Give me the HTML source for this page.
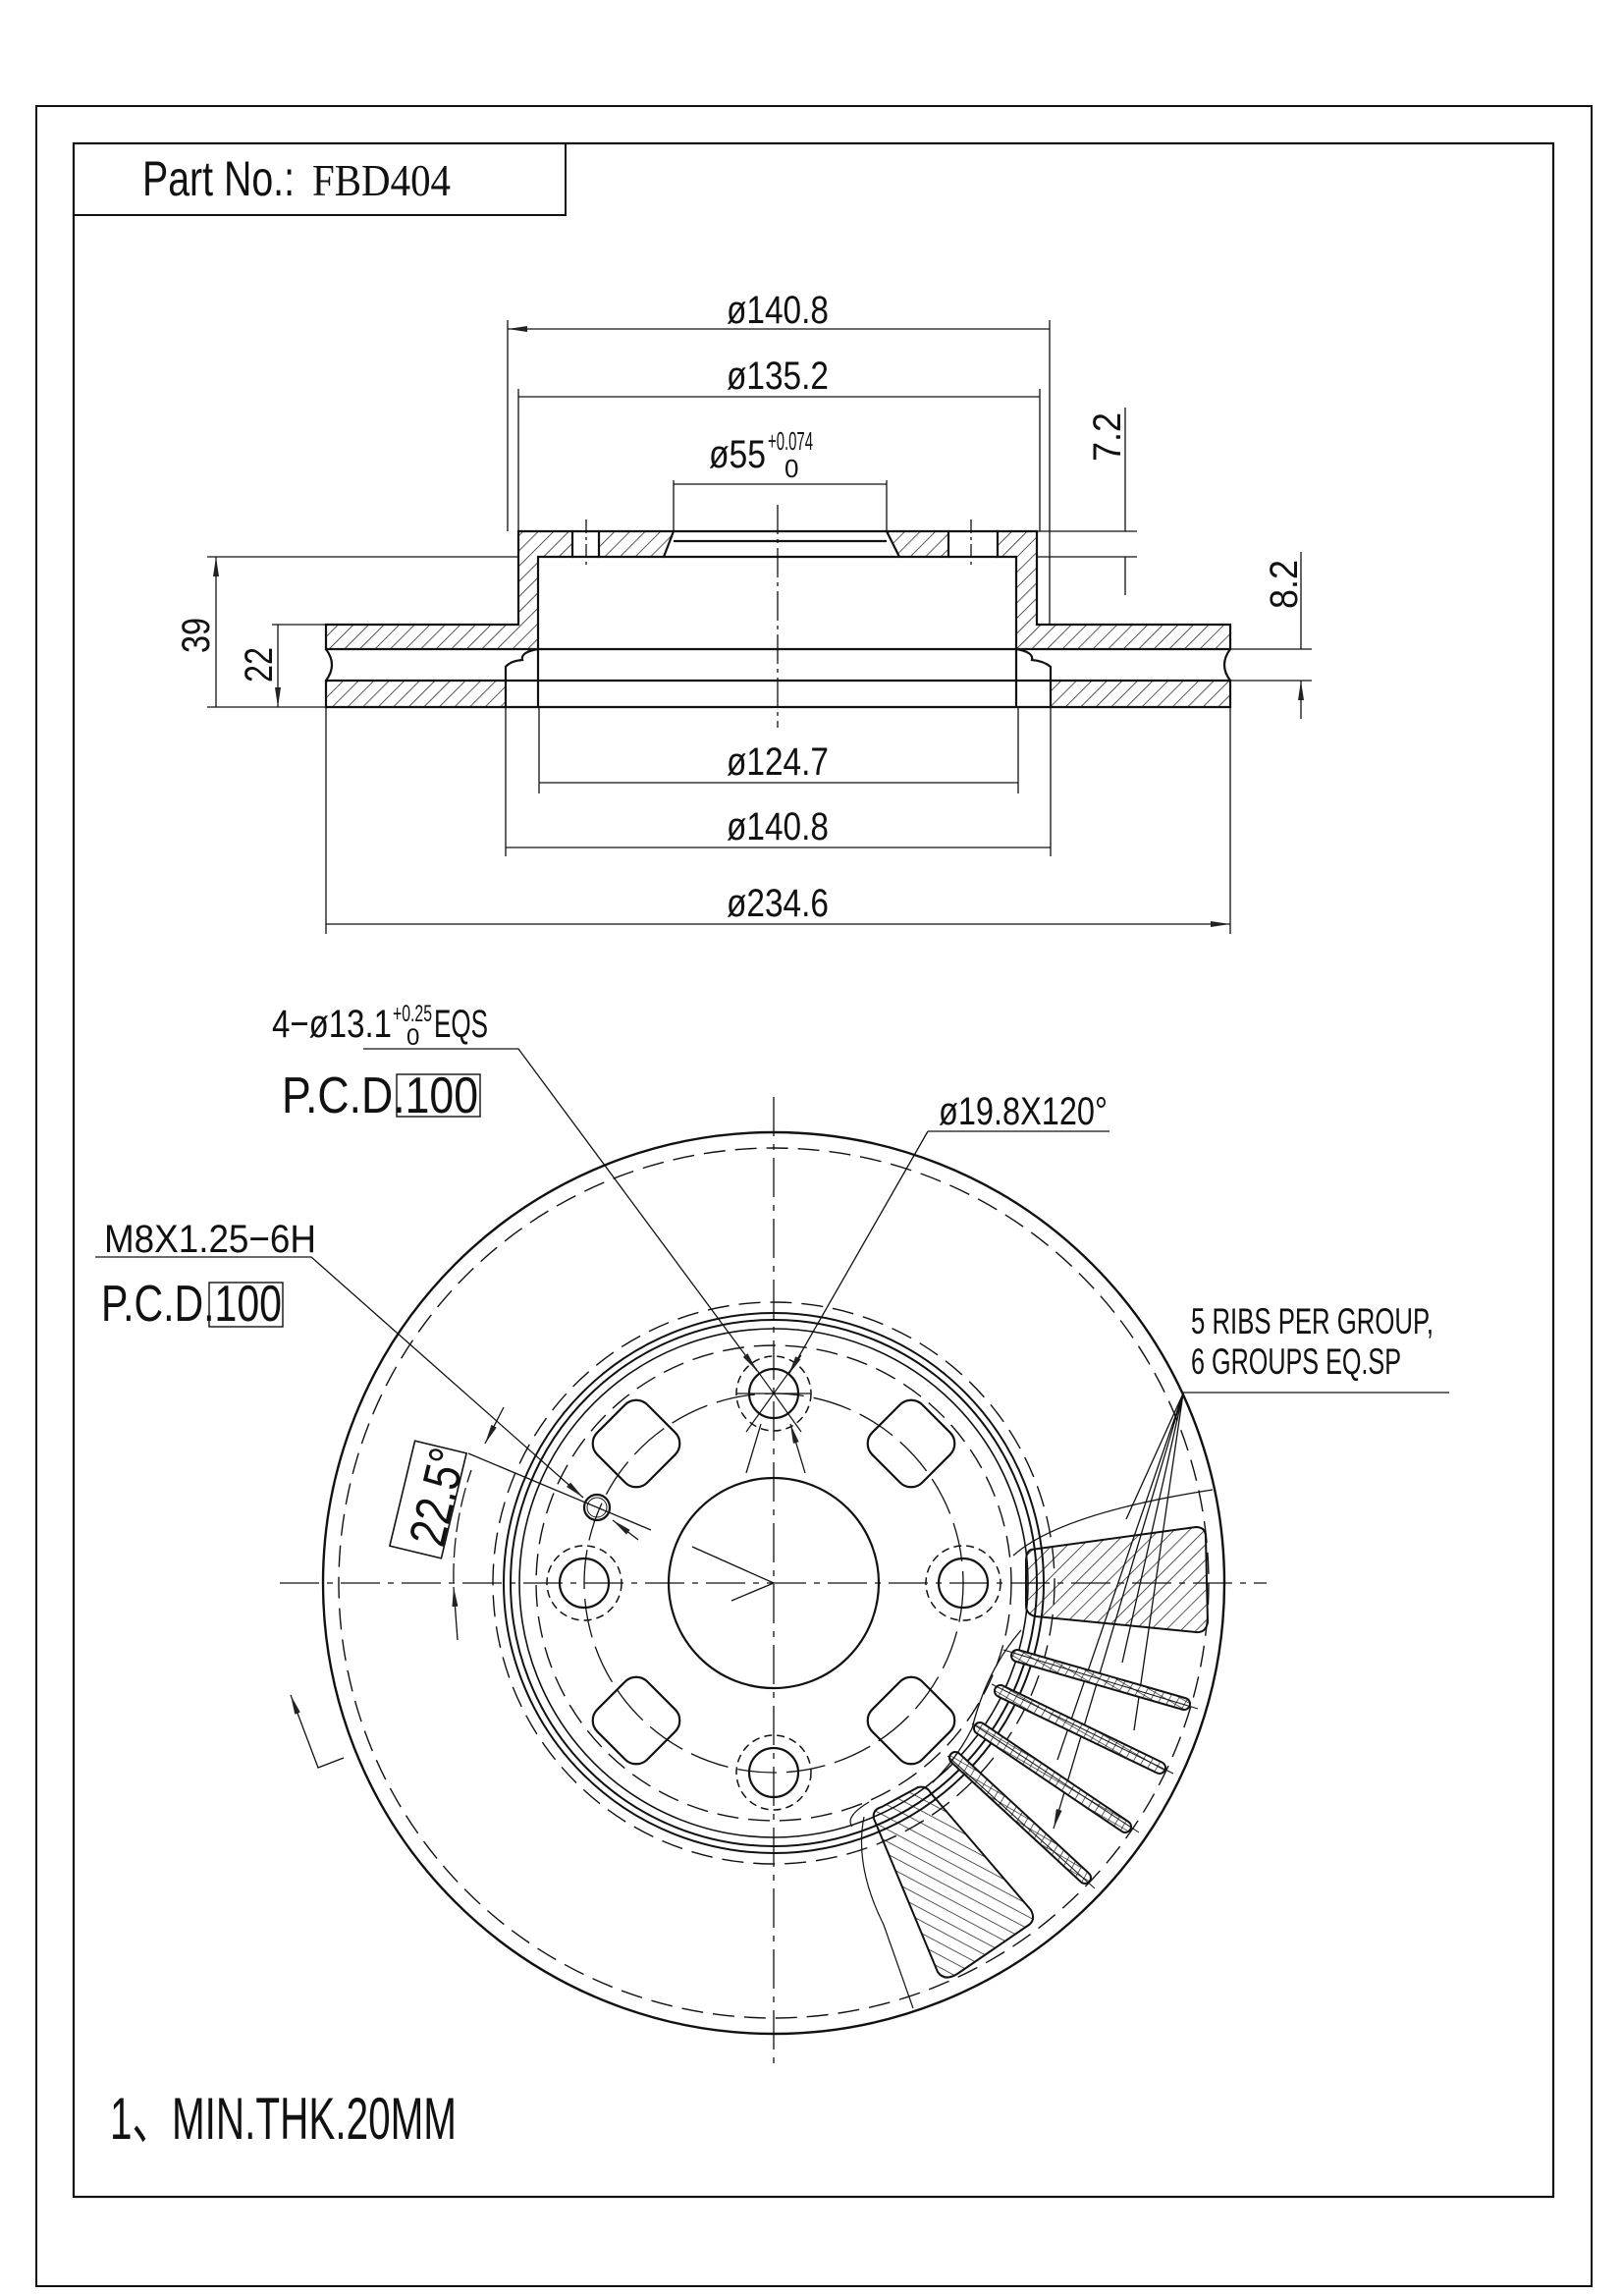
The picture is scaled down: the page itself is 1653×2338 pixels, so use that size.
<!DOCTYPE html>
<html><head><meta charset="utf-8"><style>
html,body{margin:0;padding:0;background:#fff;}
svg{display:block;}
text{font-family:"Liberation Sans",sans-serif;fill:#111;}
</style></head><body>
<svg width="1653" height="2338" viewBox="0 0 1653 2338" xmlns="http://www.w3.org/2000/svg">
<defs>
<pattern id="h" patternUnits="userSpaceOnUse" width="11" height="11" patternTransform="rotate(45)">
<line x1="0" y1="0" x2="0" y2="11" stroke="#111" stroke-width="1.4"/></pattern>
<pattern id="h2" patternUnits="userSpaceOnUse" width="11" height="11" patternTransform="rotate(-62)">
<line x1="0" y1="0" x2="0" y2="11" stroke="#111" stroke-width="1.4"/></pattern>
<pattern id="x" patternUnits="userSpaceOnUse" width="8" height="8" patternTransform="rotate(30)">
<path d="M0 0V8M0 0H8" stroke="#111" stroke-width="1.3" fill="none"/></pattern>
<marker id="a" viewBox="0 0 20 6" refX="20" refY="3" markerWidth="20" markerHeight="6" markerUnits="userSpaceOnUse" orient="auto-start-reverse">
<path d="M0 0L20 3L0 6z" fill="#222"/></marker>
</defs>
<g fill="none" stroke="#111">
<rect x="37" y="108" width="1584" height="2220" stroke-width="2"/>
<rect x="75" y="146" width="1507" height="2091" stroke-width="2.2"/>
<path d="M75 219H576V146" stroke-width="2"/>

<g stroke-width="2.2">
<path fill="url(#h)" d="M528 541H583V567H548V661H332V636H528Z"/>
<path fill="url(#h)" d="M610 541H686L676 567H610Z"/>
<path fill="url(#h)" d="M903 541H966V567H916Z"/>
<path fill="url(#h)" d="M1016 541H1056V636H1253V661H1035V567H1016Z"/>
<path fill="url(#h)" d="M332 693H515V720H332Z"/>
<path fill="url(#h)" d="M1070 693H1253V720H1070Z"/>
<path d="M583 541H610M966 541H1016M583 567H610M966 567H1016M686 541H903M676 567H916M686 551H903"/>
<path d="M548 661H1035M515 693H1070M515 720H1070M548 661V720M1035 661V720"/>
<path d="M332 661Q344 677 332 693M1253 661Q1241 677 1253 693"/>
<path d="M548 661Q530 664 532 672Q520 673 515 679V693M1035 661Q1053 664 1051 672Q1063 673 1070 679V693"/>
</g>
<g stroke-width="1.3">
<path d="M597 529V578M989 529V578" stroke-dasharray="14 4 3 4"/>
<path d="M792 514V741" stroke-dasharray="30 5 4 5"/>
<path d="M517 326V541M1069 326V636M528 396V541M1059 396V541M686 489V541M903 489V541"/>
<path d="M1056 541H1158M1056 567H1158M211 567H528M211 720H332M277 636H332M1253 661H1336M1253 693H1336"/>
<path d="M515 720V872M1070 720V872M332 720V951M1253 720V951M549 720V808M1037 720V808"/>
<path d="M517 335H1069M528 404H1059M686 493H903M549 797H1037M515 863H1070M332 941H1253" marker-start="url(#a)" marker-end="url(#a)"/>
<path d="M220 567V720M283 636V720" marker-start="url(#a)" marker-end="url(#a)"/>
<path d="M1146 415V541M1146 606V567M1325 562V661M1325 732V693" marker-end="url(#a)"/>
</g>
</g>
<g font-size="40">
<text x="740" y="329" textLength="104" lengthAdjust="spacingAndGlyphs">ø140.8</text>
<text x="740" y="396" textLength="104" lengthAdjust="spacingAndGlyphs">ø135.2</text>
<text x="722" y="476" textLength="58" lengthAdjust="spacingAndGlyphs">ø55</text>
<text x="782" y="458" font-size="26" textLength="46" lengthAdjust="spacingAndGlyphs">+0.074</text>
<text x="799" y="486" font-size="26">0</text>
<text x="740" y="789" textLength="104" lengthAdjust="spacingAndGlyphs">ø124.7</text>
<text x="740" y="855" textLength="104" lengthAdjust="spacingAndGlyphs">ø140.8</text>
<text x="740" y="933" textLength="104" lengthAdjust="spacingAndGlyphs">ø234.6</text>
<text transform="translate(213,665) rotate(-90)" textLength="36" lengthAdjust="spacingAndGlyphs">39</text>
<text transform="translate(277,695) rotate(-90)" textLength="36" lengthAdjust="spacingAndGlyphs">22</text>
<text transform="translate(1141,470) rotate(-90)" textLength="50" lengthAdjust="spacingAndGlyphs">7.2</text>
<text transform="translate(1321,620) rotate(-90)" textLength="50" lengthAdjust="spacingAndGlyphs">8.2</text>
</g>
<text x="145" y="199" font-size="50" textLength="155" lengthAdjust="spacingAndGlyphs" font-weight="300">Part No.:</text>
<text x="318" y="199" font-size="46" textLength="141" lengthAdjust="spacingAndGlyphs" style="font-family:'Liberation Serif',serif">FBD404</text>

<g fill="none" stroke="#111">
<circle cx="788" cy="1612" r="459" stroke-width="2.4"/>
<circle cx="788" cy="1612" r="443" stroke-width="1.4" stroke-dasharray="22 10"/>
<circle cx="788" cy="1612" r="286" stroke-width="1.4" stroke-dasharray="22 10"/>
<circle cx="788" cy="1612" r="275" stroke-width="2"/>
<circle cx="788" cy="1612" r="268" stroke-width="2"/>
<circle cx="788" cy="1612" r="259" stroke-width="1.6"/>
<circle cx="788" cy="1612" r="242" stroke-width="1.4" stroke-dasharray="22 10"/>
<circle cx="788" cy="1612" r="193" stroke-width="1.3" stroke-dasharray="40 10"/>
<circle cx="788" cy="1612" r="107" stroke-width="2.2"/>
<g stroke-width="2.2">
<circle cx="788" cy="1419" r="25"/><circle cx="788" cy="1805" r="25"/>
<circle cx="595" cy="1612" r="25"/><circle cx="981" cy="1612" r="25"/>
<circle cx="608" cy="1535" r="13"/><circle cx="608" cy="1535" r="10" stroke-width="1"/>
</g>
<g stroke-width="1.5" stroke-dasharray="8 5">
<circle cx="788" cy="1419" r="38"/><circle cx="788" cy="1805" r="38"/>
<circle cx="595" cy="1612" r="38"/><circle cx="981" cy="1612" r="38"/>
</g>
<g stroke-width="2.2">
<rect x="-36" y="-36" width="72" height="72" rx="16" transform="translate(648,1470) rotate(45)"/>
<rect x="-36" y="-36" width="72" height="72" rx="16" transform="translate(928,1470) rotate(45)"/>
<rect x="-36" y="-36" width="72" height="72" rx="16" transform="translate(648,1752) rotate(45)"/>
<rect x="-36" y="-36" width="72" height="72" rx="16" transform="translate(928,1752) rotate(45)"/>
</g>
<path d="M285 1612H1290M788 1117V2107" stroke-width="1.3" stroke-dasharray="40 8 6 8"/>
<path d="M760 1380L816 1458M816 1380L760 1458M750 1419H826" stroke-width="1.2"/>
<g stroke-width="1.3">
<path d="M370 1068H528L771 1396" marker-end="url(#a)"/>
<path d="M945 1152H1130M945 1152L803 1400" marker-end="url(#a)"/>
<path d="M760 1500L775 1450M820 1500L805 1450" marker-end="url(#a)"/>
<path d="M97 1280H317L594 1525" marker-end="url(#a)"/>
<path d="M650 1568L624 1548" marker-end="url(#a)"/>
<path d="M477 1480L663 1558M705 1575L788 1612L745 1630"/>
<path d="M513 1433L494 1470" marker-end="url(#a)"/>
<path d="M466 1670L462 1616" marker-end="url(#a)"/>
<path d="M462 1612A326 326 0 0 1 480 1497" stroke-dasharray="20 6"/>
<path d="M350 1790L324 1800L296 1726" marker-end="url(#a)"/>
<path d="M1205 1418H1476"/>
<path d="M1205 1419L1147 1547M1205 1419L1143 1693M1205 1419L1155 1762M1205 1419L1077 1792M1205 1419L1073 1862" marker-end="url(#a)"/>
</g>
<rect x="-55" y="-27" width="110" height="54" stroke-width="1.6" transform="translate(436,1527) rotate(-76.5)"/>
<path d="M1032 1584Q1080 1541 1235 1517" stroke-width="1.3"/>
<path fill="url(#h)" stroke-width="2" d="M1050 1578L1218 1555Q1228 1555 1228 1565L1230 1652Q1228 1663 1218 1662L1055 1646Q1045 1644 1045 1635V1590Q1045 1580 1050 1578Z"/>
<path fill="url(#h2)" stroke-width="2" d="M898 1840L935 1820Q944 1818 948 1826L1050 1945Q1055 1955 1048 1960L975 2010Q962 2018 955 2008L890 1852Q888 1843 898 1840Z"/>
<path d="M880 1850Q870 1900 900 1960L930 2045M868 1860Q860 1850 885 1835" stroke-width="1.2"/>
<g stroke-linecap="round">
<path d="M1036 1686L1206 1735M1019 1722L1181 1800M998 1760L1146 1860M973 1790L1105 1912" stroke="#111" stroke-width="14"/>
<path d="M1036 1686L1206 1735M1019 1722L1181 1800M998 1760L1146 1860M973 1790L1105 1912" stroke="#fff" stroke-width="10"/>
<path d="M1036 1686L1206 1735M1019 1722L1181 1800M998 1760L1146 1860M973 1790L1105 1912" stroke="url(#x)" stroke-width="10"/>
</g>
<path d="M1022 1680L1220 1740M1010 1715L1195 1806M990 1755L1160 1866M965 1788L1115 1923" stroke-width="1"/>
<path d="M1040 1660Q1005 1700 990 1760Q975 1790 950 1815" stroke-width="1.3"/>
</g>
<g font-size="40">
<text x="277" y="1056" textLength="122" lengthAdjust="spacingAndGlyphs">4−ø13.1</text>
<text x="400" y="1040" font-size="24" textLength="40" lengthAdjust="spacingAndGlyphs">+0.25</text>
<text x="414" y="1064" font-size="24">0</text>
<text x="442" y="1056" textLength="55" lengthAdjust="spacingAndGlyphs">EQS</text>
<text x="287" y="1133" font-size="52" textLength="200" lengthAdjust="spacingAndGlyphs">P.C.D.100</text>
<text x="956" y="1145" textLength="172" lengthAdjust="spacingAndGlyphs">ø19.8X120°</text>
<text x="106" y="1275" textLength="216" lengthAdjust="spacingAndGlyphs">M8X1.25−6H</text>
<text x="103" y="1345" font-size="52" textLength="184" lengthAdjust="spacingAndGlyphs">P.C.D.100</text>
<text x="1213" y="1358" font-size="37" textLength="247" lengthAdjust="spacingAndGlyphs">5 RIBS PER GROUP,</text>
<text x="1213" y="1399" font-size="37" textLength="214" lengthAdjust="spacingAndGlyphs">6 GROUPS EQ.SP</text>
<text transform="translate(451,1577) rotate(-76.5)" font-size="52" textLength="100" lengthAdjust="spacingAndGlyphs">22.5°</text>
<text x="112" y="2178" font-size="60" textLength="353" lengthAdjust="spacingAndGlyphs">1、MIN.THK.20MM</text>
</g>
<g fill="none" stroke="#111" stroke-width="1.4">
<rect x="404" y="1094" width="85" height="43"/>
<rect x="213" y="1306" width="75" height="45"/>
</g>
</svg>
</body></html>
